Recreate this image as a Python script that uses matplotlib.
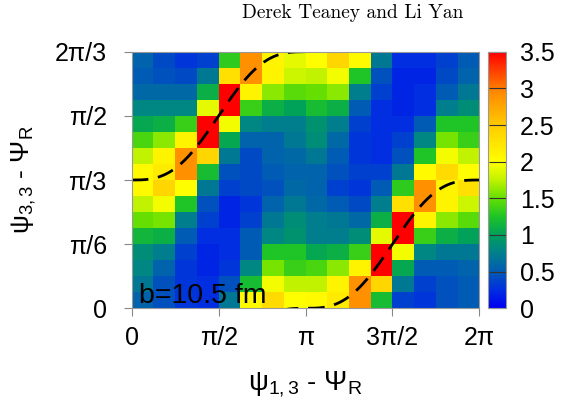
import numpy as np
import matplotlib
matplotlib.use("Agg")
import matplotlib.pyplot as plt
from matplotlib.colors import LinearSegmentedColormap

plt.rcParams['font.family'] = ['Liberation Sans', 'DejaVu Sans']
plt.rcParams['mathtext.fontset'] = 'custom'
plt.rcParams['mathtext.rm'] = 'Liberation Sans'
plt.rcParams['mathtext.it'] = 'Liberation Sans'

# psi_{3,3} vs psi_{1,3} correlation, rows listed from top (2pi/3) to bottom (0)
Z = [
    [0.55, 0.40, 0.30, 0.35, 1.30, 2.90, 2.10, 1.90, 2.00, 2.40, 2.05, 0.70, 0.25, 0.25, 0.35, 0.50],
    [0.50, 0.45, 0.40, 0.70, 2.30, 2.90, 2.10, 1.80, 1.75, 1.95, 1.25, 0.45, 0.20, 0.20, 0.40, 0.55],
    [0.60, 0.60, 0.60, 1.10, 3.50, 2.10, 1.60, 1.45, 1.50, 1.60, 0.75, 0.35, 0.20, 0.25, 0.50, 0.70],
    [0.80, 0.80, 0.80, 1.90, 3.50, 1.35, 1.10, 1.00, 1.20, 1.10, 0.50, 0.25, 0.20, 0.25, 0.75, 0.85],
    [1.05, 1.10, 1.35, 3.50, 1.95, 0.80, 0.75, 0.75, 0.90, 0.75, 0.35, 0.25, 0.25, 0.50, 1.25, 1.25],
    [1.40, 1.60, 2.10, 3.50, 1.05, 0.55, 0.55, 0.70, 0.85, 0.60, 0.30, 0.25, 0.35, 0.80, 1.55, 1.35],
    [1.75, 2.10, 2.90, 2.40, 0.70, 0.40, 0.55, 0.60, 0.70, 0.50, 0.30, 0.25, 0.45, 1.25, 1.95, 1.75],
    [2.05, 2.20, 2.90, 1.20, 0.45, 0.40, 0.50, 0.55, 0.55, 0.45, 0.35, 0.35, 0.70, 2.05, 2.35, 2.00],
    [2.05, 2.40, 2.00, 0.70, 0.35, 0.40, 0.45, 0.60, 0.55, 0.35, 0.30, 0.50, 1.30, 2.90, 2.10, 2.30],
    [1.75, 1.95, 1.25, 0.45, 0.20, 0.30, 0.55, 0.70, 0.60, 0.50, 0.40, 0.75, 2.30, 2.90, 2.10, 1.80],
    [1.50, 1.55, 0.75, 0.35, 0.20, 0.35, 0.70, 0.85, 0.75, 0.70, 0.60, 1.10, 3.50, 2.10, 1.60, 1.45],
    [1.15, 1.10, 0.50, 0.25, 0.25, 0.50, 0.80, 0.90, 0.75, 0.75, 0.85, 1.90, 3.50, 1.35, 1.10, 1.00],
    [0.85, 0.75, 0.35, 0.20, 0.25, 0.50, 1.25, 1.25, 1.05, 1.10, 1.35, 3.50, 1.95, 0.80, 0.70, 0.70],
    [0.80, 0.55, 0.30, 0.20, 0.30, 0.80, 1.55, 1.35, 1.40, 1.60, 2.10, 3.50, 1.05, 0.50, 0.50, 0.55],
    [0.70, 0.45, 0.30, 0.25, 0.45, 1.20, 1.95, 1.75, 1.75, 2.10, 2.90, 2.40, 0.70, 0.35, 0.45, 0.50],
    [0.55, 0.45, 0.30, 0.25, 0.70, 2.05, 2.35, 2.00, 2.05, 2.20, 2.90, 1.20, 0.35, 0.30, 0.45, 0.50],
]
xticks = [0, np.pi/2, np.pi, 3*np.pi/2, 2*np.pi]
xlabels = ['0', 'π/2', 'π', '3π/2', '2π']
yticks = [0, np.pi/6, np.pi/3, np.pi/2, 2*np.pi/3]
ylabels = ['0', 'π/6', 'π/3', 'π/2', '2π/3']
cticks = [0, 0.5, 1, 1.5, 2, 2.5, 3, 3.5]
clabels = ['0', '0.5', '1', '1.5', '2', '2.5', '3', '3.5']

Z = np.array(Z)[::-1]
ny, nx = Z.shape
xe = np.linspace(0, 2*np.pi, nx + 1)
ye = np.linspace(0, 2*np.pi/3, ny + 1)

# ROOT-like rainbow palette
nodes = [0.0, 0.07, 0.143, 0.214, 0.286, 0.357, 0.43, 0.50, 0.57, 0.70, 0.84, 1.0]
cols = [(0.0, 0.0, 0.95), (0.0, 0.18, 0.88), (0.0, 0.36, 0.70), (0.0, 0.50, 0.55),
        (0.0, 0.63, 0.35), (0.12, 0.77, 0.15), (0.40, 0.88, 0.0), (0.75, 0.95, 0.0),
        (1.0, 1.0, 0.0), (1.0, 0.82, 0.0), (1.0, 0.55, 0.0), (1.0, 0.0, 0.0)]
cmap = LinearSegmentedColormap.from_list('rootpal', list(zip(nodes, cols)))

fig = plt.figure(figsize=(5.76, 4.05), dpi=100)
ax = fig.add_axes([0.2287, 0.2388, 0.6035, 0.6335])
cax = fig.add_axes([0.848, 0.2388, 0.031, 0.6335])

mesh = ax.pcolormesh(xe, ye, Z, cmap=cmap, vmin=0, vmax=3.5)

# model curve, wrapped into [0, 2pi/3]
x = np.linspace(0, 2*np.pi, 600)
yc = np.pi/3 + (x - np.sin(2*x)/2)/3
for shift in [0, -2*np.pi/3]:
    ax.plot(x, yc + shift, color='black', lw=2, dashes=(6, 3.5))

ax.set_xlim(0, 2*np.pi)
ax.set_ylim(0, 2*np.pi/3)
ax.set_xticks(xticks)
ax.set_xticklabels(xlabels)
ax.set_yticks(yticks)
ax.set_yticklabels(ylabels)
ax.tick_params(labelsize=18, length=6, color='#888888')
ax.tick_params(axis='x', pad=7)
ax.tick_params(axis='y', pad=12)
for s in ax.spines.values():
    s.set_color('#999999')
    s.set_linewidth(0.8)

ax.set_xlabel('ψ$_{1,3}$ - Ψ$_{\\rm R}$', fontsize=20, labelpad=14)
ax.set_ylabel('ψ$_{3,3}$ - Ψ$_{\\rm R}$', fontsize=19, labelpad=12)
ax.text(0.02, 0.02, 'b=10.5 fm', transform=ax.transAxes, fontsize=20.5,
        ha='left', va='baseline', color='black')

cb = fig.colorbar(mesh, cax=cax, ticks=cticks)
cb.set_ticklabels(clabels)
cb.outline.set_edgecolor('#999999')
cb.outline.set_linewidth(0.8)
cax.tick_params(labelsize=18, direction='in', length=12, width=0.8,
                color='#333333', pad=10)

fig.text(0.613, 0.968, 'Derek Teaney and Li Yan', ha='center', va='center',
         fontsize=14, family='cmr10')

fig.savefig('out.png', dpi=100)
